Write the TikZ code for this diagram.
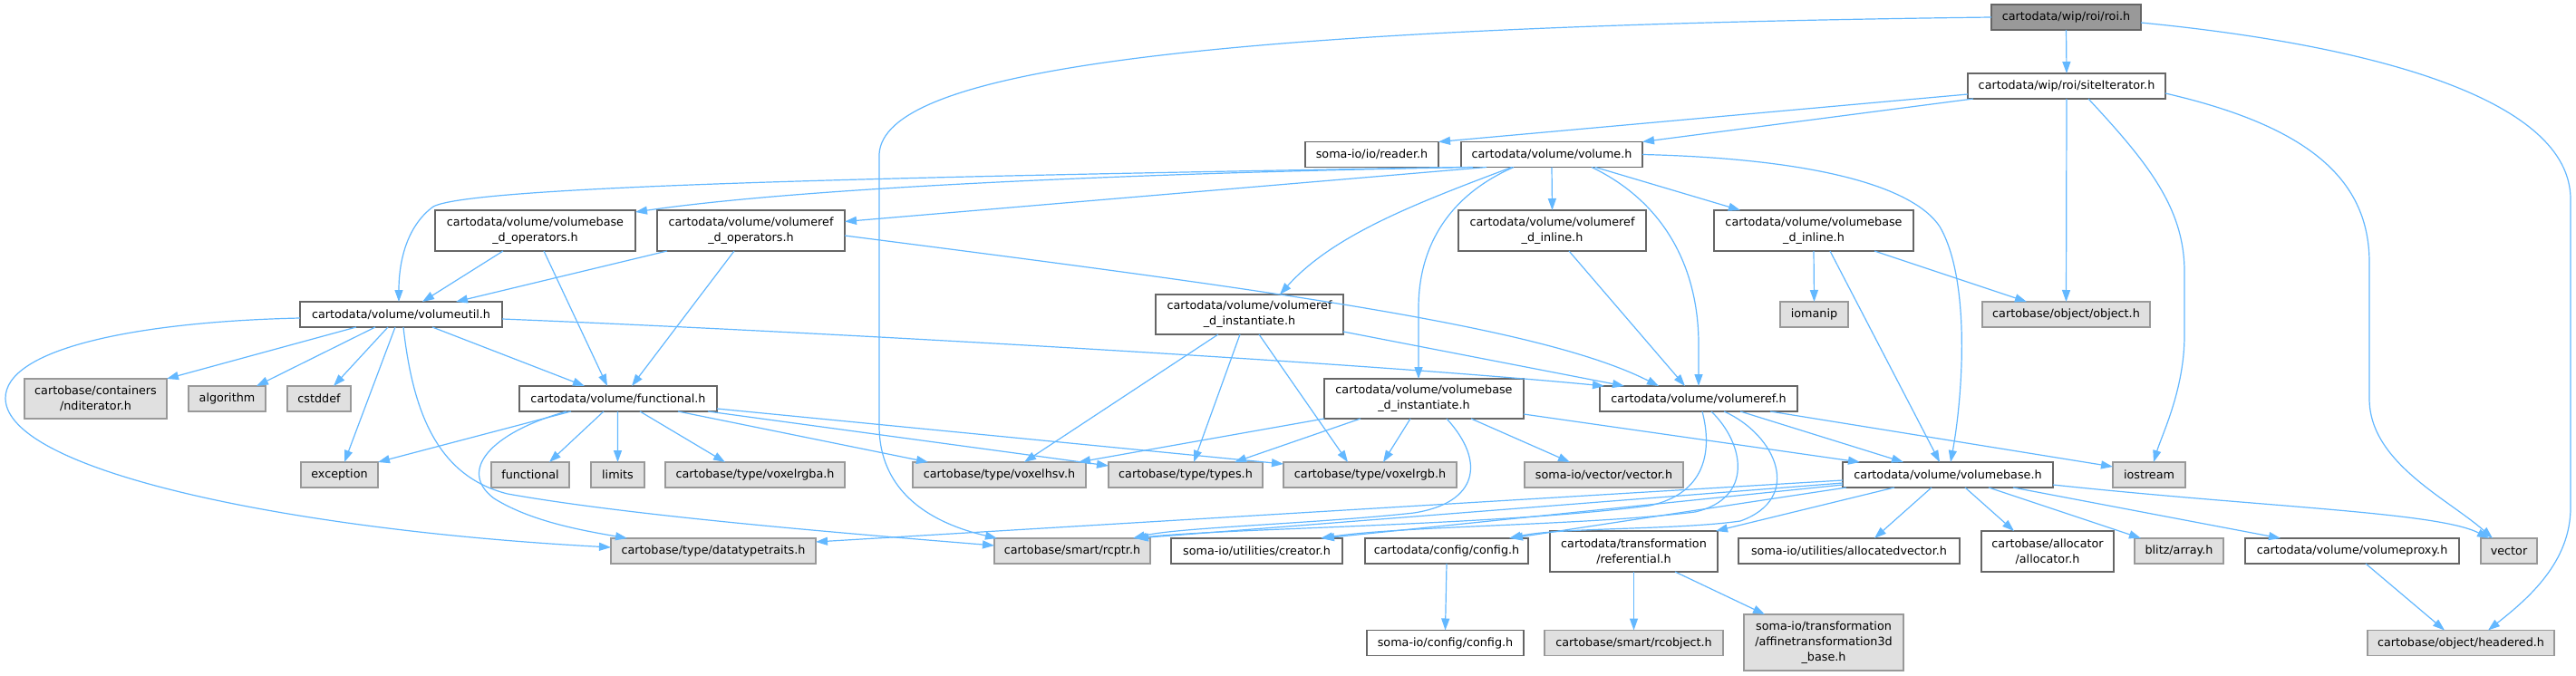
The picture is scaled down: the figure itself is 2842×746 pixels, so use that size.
\documentclass[tikz,border=0pt]{standalone}
\usepackage{fontspec}
\setmainfont{DejaVu Sans}
\usetikzlibrary{arrows.meta}
\definecolor{cgrey}{HTML}{666666}
\definecolor{cgreyb}{HTML}{999999}
\definecolor{cfill}{HTML}{E0E0E0}
\definecolor{cedge}{HTML}{63B8FF}
\tikzset{
  box/.style={draw=cgrey, line width=1.1bp, fill=white, inner sep=0pt, outer sep=0pt,
    align=center, font=\fontsize{12.8}{17}\selectfont, text=black},
  ext/.style={box, draw=cgreyb, fill=cfill},
  rootbox/.style={box, draw=cgrey, fill=cgreyb},
  sz/.style 2 args={minimum width=#1bp, minimum height=#2bp},
  dep/.style={draw=cedge, line width=1.2bp, -{Triangle[length=13bp,width=9bp]}}
}
\begin{document}
\begin{tikzpicture}[x=1bp,y=-1bp]
\useasboundingbox[fill=white] (0,0) rectangle (2842,746);
% nodes
\node[rootbox, sz={165}{28}] (roi) at (2279.5,19) {cartodata/wip/roi/roi.h};
\node[box, sz={218}{28}] (site) at (2280,95) {cartodata/wip/roi/siteIterator.h};
\node[box, sz={147}{28}] (reader) at (1513.5,170.5) {soma-io/io/reader.h};
\node[box, sz={200}{28}] (volume) at (1712,170.5) {cartodata/volume/volume.h};
\node[box, sz={221}{45}] (vbops) at (590.5,254.5) {cartodata/volume/volumebase\\\_d\_operators.h};
\node[box, sz={207}{45}] (vrops) at (828.5,254.5) {cartodata/volume/volumeref\\\_d\_operators.h};
\node[box, sz={207}{45}] (vrinline) at (1712.5,254.5) {cartodata/volume/volumeref\\\_d\_inline.h};
\node[box, sz={220}{45}] (vbinline) at (2001,254.5) {cartodata/volume/volumebase\\\_d\_inline.h};
\node[box, sz={223}{28}] (vutil) at (442.5,347) {cartodata/volume/volumeutil.h};
\node[box, sz={207}{44}] (vrinst) at (1378.5,347) {cartodata/volume/volumeref\\\_d\_instantiate.h};
\node[ext, sz={75}{28}] (iomanip) at (2001.5,347) {iomanip};
\node[ext, sz={185}{28}] (object) at (2279.5,347) {cartobase/object/object.h};
\node[ext, sz={157}{44}] (nditer) at (105.5,440) {cartobase/containers\\/nditerator.h};
\node[ext, sz={85}{28}] (algorithm) at (250.5,440) {algorithm};
\node[ext, sz={70}{28}] (cstddef) at (352,440) {cstddef};
\node[box, sz={218}{28}] (funch) at (682,440) {cartodata/volume/functional.h};
\node[box, sz={220}{44}] (vbinst) at (1571,440) {cartodata/volume/volumebase\\\_d\_instantiate.h};
\node[box, sz={218}{28}] (vref) at (1874,440) {cartodata/volume/volumeref.h};
\node[ext, sz={85}{28}] (exception) at (374.5,524) {exception};
\node[ext, sz={86}{28}] (functional) at (585,524) {functional};
\node[ext, sz={59}{28}] (limits) at (681.5,524) {limits};
\node[ext, sz={198}{28}] (voxelrgba) at (833,524) {cartobase/type/voxelrgba.h};
\node[ext, sz={191}{28}] (voxelhsv) at (1102.5,524) {cartobase/type/voxelhsv.h};
\node[ext, sz={170}{28}] (types) at (1308,524) {cartobase/type/types.h};
\node[ext, sz={191}{28}] (voxelrgb) at (1511.5,524) {cartobase/type/voxelrgb.h};
\node[ext, sz={175}{28}] (vectorh) at (1769.5,524) {soma-io/vector/vector.h};
\node[box, sz={232}{28}] (vbase) at (2149,524) {cartodata/volume/volumebase.h};
\node[ext, sz={80}{28}] (iostream) at (2371,524) {iostream};
\node[ext, sz={226}{28}] (dtt) at (787,608) {cartobase/type/datatypetraits.h};
\node[ext, sz={172}{28}] (rcptr) at (1183,608) {cartobase/smart/rcptr.h};
\node[box, sz={189}{28}] (creator) at (1386.5,608) {soma-io/utilities/creator.h};
\node[box, sz={180}{28}] (config) at (1596,608) {cartodata/config/config.h};
\node[box, sz={185}{45}] (referential) at (1802.5,608.5) {cartodata/transformation\\/referential.h};
\node[box, sz={244}{28}] (allocvec) at (2040,608) {soma-io/utilities/allocatedvector.h};
\node[box, sz={146}{45}] (allocator) at (2259,608.5) {cartobase/allocator\\/allocator.h};
\node[ext, sz={98}{28}] (blitz) at (2404,608) {blitz/array.h};
\node[box, sz={236}{28}] (vproxy) at (2595,608) {cartodata/volume/volumeproxy.h};
\node[ext, sz={62}{28}] (vector) at (2768,608) {vector};
\node[box, sz={173}{28}] (somaconfig) at (1594.5,709.5) {soma-io/config/config.h};
\node[ext, sz={197}{28}] (rcobject) at (1802.5,709.5) {cartobase/smart/rcobject.h};
\node[ext, sz={176}{62}] (affine) at (2012,709) {soma-io/transformation\\/affinetransformation3d\\\_base.h};
\node[ext, sz={206}{28}] (headered) at (2715,709.5) {cartobase/object/headered.h};
% edges from roi.h
\draw[dep] (roi.south) -- (site.north);
\draw[dep] (roi.west) .. controls (1300,30) and (975,80) .. (970,170) -- (970,470)
  .. controls (970,545) and (1030,578) .. ([xshift=3bp]rcptr.north west);
\draw[dep] ([yshift=-6bp]roi.east) .. controls (2620,50) and (2836,110) .. (2836,220) -- (2836,560)
  .. controls (2836,620) and (2790,660) .. ([xshift=30bp]headered.north);
% siteIterator.h
\draw[dep] ([yshift=-9bp]site.west) -- (reader.north east);
\draw[dep] ([xshift=6bp]site.south west) -- (volume.north east);
\draw[dep] (site.south) -- (object.north);
\draw[dep] ([xshift=24bp]site.south) .. controls (2370,180) and (2410,230) .. (2410,300) -- (2410,370)
  .. controls (2410,430) and (2385,480) .. ([xshift=5bp]iostream.north);
\draw[dep] ([yshift=-8bp]site.east) .. controls (2550,140) and (2614,200) .. (2614,290) -- (2614,440)
  .. controls (2614,510) and (2700,550) .. ([xshift=-18bp]vector.north);
% volume.h
\draw[dep] (volume.south west) .. controls (1000,195) and (520,205) .. (478,228)
  .. controls (448,250) and (440,290) .. ([xshift=-2.5bp]vutil.north);
\draw[dep] ([xshift=13bp]volume.south west) .. controls (1300,190) and (900,205) .. ([yshift=-2bp]vbops.north east);
\draw[dep] ([xshift=28bp]volume.south west) -- ([yshift=10bp]vrops.east);
\draw[dep] ([xshift=-44bp]volume.south) .. controls (1560,225) and (1470,260) .. ([xshift=33.5bp]vrinst.north);
\draw[dep] ([xshift=-42bp]volume.south) .. controls (1600,215) and (1565,270) .. (1565,340) -- ([xshift=-6bp]vbinst.north);
\draw[dep] (volume.south) -- (vrinline.north);
\draw[dep] ([xshift=44bp]volume.south) .. controls (1840,225) and (1874,300) .. (1874,380) -- (vref.north);
\draw[dep] ([xshift=48bp]volume.south) -- ([xshift=29bp]vbinline.north west);
\draw[dep] (volume.east) .. controls (2000,175) and (2110,205) .. (2140,250)
  .. controls (2175,310) and (2165,440) .. ([xshift=3bp]vbase.north);
% operators
\draw[dep] ([xshift=-35.5bp]vbops.south) -- ([xshift=23.5bp]vutil.north);
\draw[dep] ([xshift=9.5bp]vbops.south) -- ([xshift=-12bp]funch.north);
\draw[dep] ([xshift=11bp]vrops.south west) -- ([xshift=60.5bp]vutil.north);
\draw[dep] ([xshift=-18.5bp]vrops.south) -- ([xshift=15bp]funch.north);
\draw[dep] ([yshift=-5.5bp]vrops.east) .. controls (1400,320) and (1700,360) .. ([xshift=-44bp]vref.north);
% volumeutil.h
\draw[dep] ([xshift=-49.5bp]vutil.south) -- (nditer.north east);
\draw[dep] ([xshift=-28.5bp]vutil.south) -- ([xshift=32.5bp]algorithm.north);
\draw[dep] ([xshift=-14.5bp]vutil.south) -- ([xshift=16bp]cstddef.north);
\draw[dep] ([xshift=-6.5bp]vutil.south) -- ([xshift=5.5bp]exception.north);
\draw[dep] ([xshift=34.5bp]vutil.south) -- ([xshift=-37bp]funch.north);
\draw[dep] ([yshift=-4bp]vutil.west) .. controls (150,355) and (5,385) .. (6,440)
  .. controls (8,520) and (320,585) .. ([yshift=4bp]dtt.west);
\draw[dep] ([xshift=2.5bp]vutil.south) .. controls (455,450) and (480,525) .. (560,545)
  .. controls (700,570) and (950,590) .. ([yshift=6bp]rcptr.west);
\draw[dep] ([yshift=-5bp]vutil.east) .. controls (900,366) and (1500,400) .. ([xshift=5bp]vref.north west);
% functional.h
\draw[dep] ([xshift=-52bp]funch.south) -- (exception.north east);
\draw[dep] ([xshift=-16bp]funch.south) -- ([xshift=21bp]functional.north);
\draw[dep] ([xshift=-0.5bp]funch.south) -- (limits.north);
\draw[dep] ([xshift=24bp]funch.south) -- ([xshift=-33bp]voxelrgba.north);
\draw[dep] ([xshift=-57bp]funch.south) .. controls (540,478) and (505,520) .. (545,550)
  .. controls (585,575) and (640,585) .. ([xshift=-95bp]dtt.north);
\draw[dep] ([xshift=66bp]funch.south) -- ([xshift=17bp]voxelhsv.north west);
\draw[dep] ([xshift=-10bp]funch.south east) -- ([yshift=10bp]types.west);
\draw[dep] ([yshift=-11bp]funch.east) -- ([yshift=12bp]voxelrgb.west);
% volumeref_d_instantiate.h
\draw[dep] ([xshift=-34.5bp]vrinst.south) -- ([xshift=27.5bp]voxelhsv.north);
\draw[dep] ([xshift=-10.5bp]vrinst.south) -- ([xshift=9bp]types.north);
\draw[dep] ([xshift=10.5bp]vrinst.south) -- ([xshift=-24.5bp]voxelrgb.north);
\draw[dep] ([yshift=-19bp]vrinst.east) -- ([xshift=-82bp]vref.north);
% volumeref_d_inline.h
\draw[dep] ([xshift=18.5bp]vrinline.south) -- ([xshift=-15bp]vref.north);
% volumebase_d_inline.h
\draw[dep] (vbinline.south) -- (iomanip.north);
\draw[dep] ([xshift=67bp]vbinline.south) -- ([xshift=-43.5bp]object.north);
\draw[dep] ([xshift=18bp]vbinline.south) -- ([xshift=-9bp]vbase.north);
% volumebase_d_instantiate.h
\draw[dep] (vbinst.south west) -- ([xshift=-8bp]voxelhsv.north east);
\draw[dep] ([xshift=40bp]vbinst.south west) -- ([xshift=54bp]types.north);
\draw[dep] ([xshift=-15bp]vbinst.south) -- ([xshift=14.5bp]voxelrgb.north);
\draw[dep] ([xshift=52bp]vbinst.south) -- ([xshift=-37.5bp]vectorh.north);
\draw[dep] ([xshift=25bp]vbinst.south) .. controls (1640,510) and (1630,555) .. (1560,566)
  .. controls (1450,578) and (1300,582) .. ([xshift=-19bp]rcptr.north east);
\draw[dep] ([yshift=-17bp]vbinst.east) -- ([xshift=19bp]vbase.north west);
% volumeref.h
\draw[dep] ([xshift=46bp]vref.south) -- ([xshift=-49bp]vbase.north);
\draw[dep] ([xshift=79bp]vref.south) -- ([yshift=9bp]iostream.west);
\draw[dep] ([xshift=4bp]vref.south) .. controls (1890,500) and (1880,545) .. (1820,558)
  .. controls (1650,580) and (1350,583) .. ([xshift=-17bp]rcptr.north east);
\draw[dep] ([xshift=14bp]vref.south) .. controls (1925,490) and (1935,550) .. (1870,565)
  .. controls (1750,580) and (1550,580) .. ([xshift=70.5bp]creator.north);
\draw[dep] ([xshift=28bp]vref.south) .. controls (1960,480) and (1990,550) .. (1920,575)
  .. controls (1850,585) and (1720,582) .. ([xshift=69bp]config.north);
% volumebase.h
\draw[dep] ([yshift=-6bp]vbase.west) -- ([yshift=10bp]dtt.east);
\draw[dep] ([yshift=-9bp]vbase.west) -- ([xshift=-15bp]rcptr.north east);
\draw[dep] ([yshift=-11bp]vbase.west) -- ([xshift=72.5bp]creator.north);
\draw[dep] ([xshift=4bp]vbase.south west) -- ([xshift=71bp]config.north);
\draw[dep] ([xshift=57bp]vbase.south west) -- ([xshift=-2bp]referential.north east);
\draw[dep] ([xshift=-18bp]vbase.south) -- ([xshift=28bp]allocvec.north);
\draw[dep] ([xshift=19bp]vbase.south) -- ([xshift=-37bp]allocator.north);
\draw[dep] ([xshift=45bp]vbase.south) -- ([xshift=7bp]blitz.north west);
\draw[dep] ([xshift=72bp]vbase.south) -- ([xshift=39bp]vproxy.north west);
\draw[dep] ([yshift=-11bp]vbase.east) .. controls (2500,560) and (2690,565) .. ([xshift=-22bp]vector.north);
% lower level
\draw[dep] ([xshift=15bp]vproxy.south) -- ([xshift=-18bp]headered.north);
\draw[dep] (referential.south) -- (rcobject.north);
\draw[dep] ([xshift=45.5bp]referential.south) -- ([xshift=23bp]affine.north west);
\draw[dep] (config.south) -- (somaconfig.north);
\end{tikzpicture}
\end{document}
